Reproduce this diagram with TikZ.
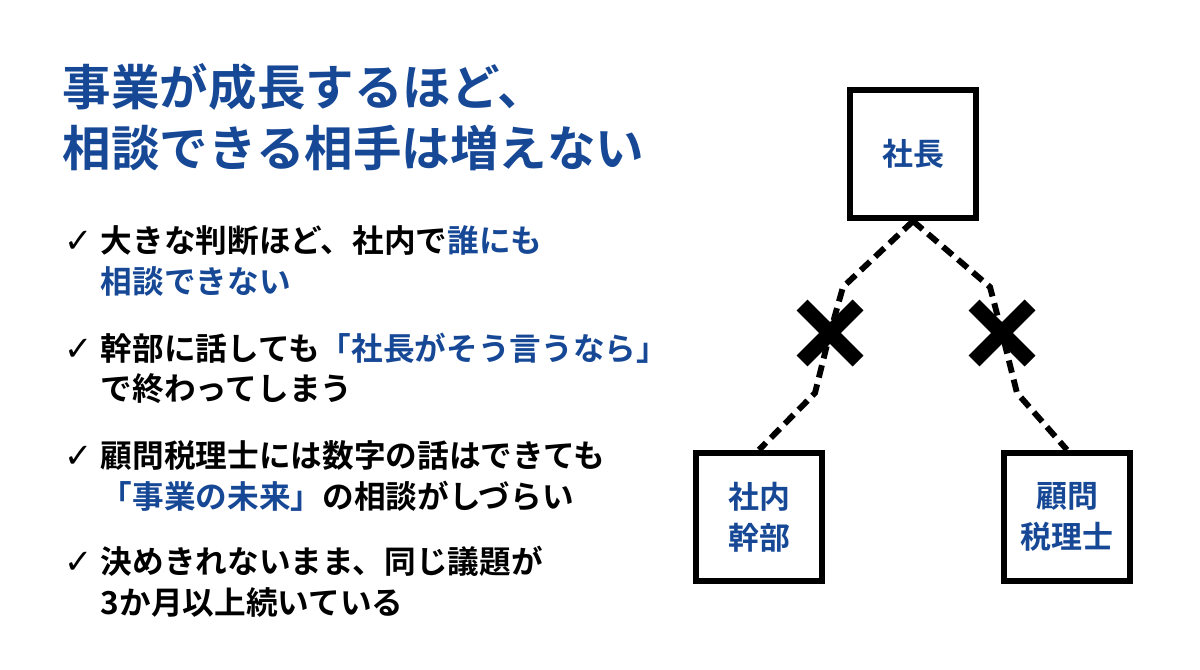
\documentclass[tikz,border=0pt]{standalone}
\usepackage{fontspec}
\setmainfont{Noto Sans CJK JP}[BoldFont={* Bold}]
\newfontfamily\symfont{DejaVu Sans}
\usetikzlibrary{positioning}
\definecolor{titleblue}{RGB}{22,72,150}

\begin{document}
\begin{tikzpicture}[x=0.025cm,y=-0.025cm,
    box/.style={draw, line width=4.4pt, minimum width=3.15cm, minimum height=3.2cm, align=center,
      font=\bfseries\fontsize{22}{29}\selectfont, text=titleblue},
    link/.style={line width=4.2pt, dash pattern=on 9pt off 5pt},
    cross/.style={line width=11pt},
    item/.style={anchor=base west, font=\bfseries\fontsize{22.5}{28}\selectfont},
    tick/.style={anchor=base west, font=\symfont\bfseries\fontsize{24}{26}\selectfont}]
    \useasboundingbox (0,0) rectangle (1200,669);

    % Title
    \node[anchor=base west, text=titleblue, font=\bfseries\fontsize{34.5}{40}\selectfont] (title1) at (58,106) {事業が成長するほど、};
    \node[anchor=base west, text=titleblue, font=\bfseries\fontsize{34.5}{40}\selectfont] (title2) at (58,167) {相談できる相手は増えない};

    % Bullets
    \node[tick] (t1) at (60,252) {✓};
    \node[item] (b1a) at (96,252) {大きな判断ほど、社内で\textcolor{titleblue}{誰にも}};
    \node[item] (b1b) at (96,293) {\textcolor{titleblue}{相談できない}};
    \node[tick] (t2) at (60,360) {✓};
    \node[item] (b2a) at (96,360) {幹部に話しても\textcolor{titleblue}{「社長がそう言うなら」}};
    \node[item] (b2b) at (96,400) {で終わってしまう};
    \node[tick] (t3) at (60,467) {✓};
    \node[item] (b3a) at (96,467) {顧問税理士には数字の話はできても};
    \node[item] (b3b) at (96,508) {\textcolor{titleblue}{「事業の未来」}の相談がしづらい};
    \node[tick] (t4) at (60,573) {✓};
    \node[item] (b4a) at (96,573) {決めきれないまま、同じ議題が};
    \node[item] (b4b) at (96,614) {3か月以上続いている};

    % Diagram
    \node[box] (ceo) at (913,154) {社長};
    \node[box] (exec) at (759,517) {社内\\幹部};
    \node[box] (tax) at (1067,517) {顧問\\税理士};

    \coordinate (lx) at (830,333);
    \coordinate (rx) at (1002,333);
    \draw[link] (ceo.south) -- (843,287) -- (lx) -- (815,393) -- (exec.north);
    \draw[link] (ceo.south) -- (990,287) -- (rx) -- (1017,393) -- (tax.north);

    % Crosses
    \foreach \c in {lx,rx} {
      \draw[cross] ([shift={(-28,-28)}]\c) -- ([shift={(28,28)}]\c);
      \draw[cross] ([shift={(-28,28)}]\c) -- ([shift={(28,-28)}]\c);
    }
\end{tikzpicture}
\end{document}
